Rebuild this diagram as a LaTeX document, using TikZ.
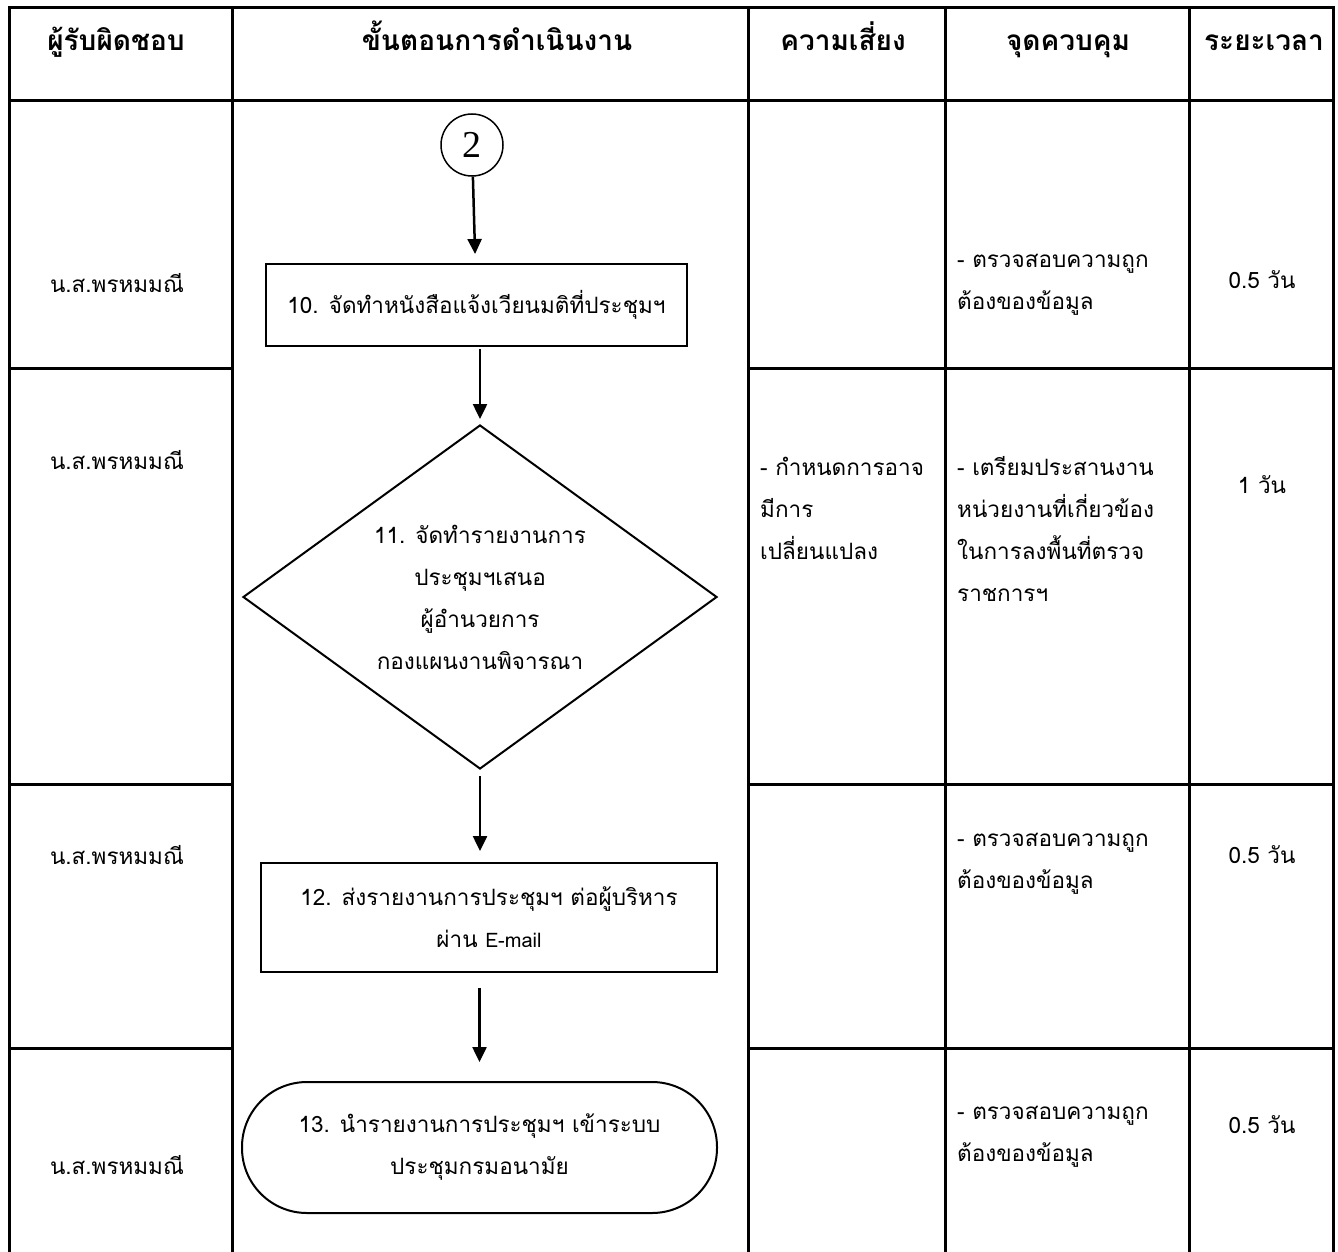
\documentclass[tikz,border=0pt]{standalone}
\usepackage{fontspec}
\setmainfont[Script=Thai]{Loma}
\newfontfamily\numserif{Liberation Serif}
\usetikzlibrary{shapes.geometric,arrows.meta}
\begin{document}
\begin{tikzpicture}[x=1pt,y=-1pt,
  grid/.style={line width=3pt, line cap=rect},
  txt/.style={font=\fontsize{22.5}{42}\selectfont, inner sep=0pt},
  hdr/.style={font=\bfseries\fontsize{28}{32}\selectfont, inner sep=0pt, anchor=base},
  shp/.style={draw, line width=2pt, align=center, inner sep=0pt, font=\fontsize{22.5}{42}\selectfont},
  arr/.style={-{Triangle[length=15pt,width=14pt]}, line width=2.5pt}]
\useasboundingbox (0,0) rectangle (1338,1252);
% table grid
\draw[grid] (9,8) -- (1333,8);
\draw[grid] (9,101) -- (1333,101);
\foreach \xx in {9,232,748,945,1189,1333} \draw[grid] (\xx,8) -- (\xx,1258);
\foreach \yy in {368,784,1048} {
  \draw[grid] (9,\yy) -- (232,\yy);
  \draw[grid] (748,\yy) -- (1333,\yy);
}
% headers
\node[hdr] (h1) at (116,51) {ผู้รับผิดชอบ};
\node[hdr] (h2) at (497,51) {ขั้นตอนการดำเนินงาน};
\node[hdr] (h3) at (843,51) {ความเสี่ยง};
\node[hdr] (h4) at (1068,51) {จุดควบคุม};
\node[hdr] (h5) at (1264,51) {ระยะเวลา};
% responsible
\node[txt] (r1) at (117,283) {น.ส.พรหมมณี};
\node[txt] (r2) at (117,460) {น.ส.พรหมมณี};
\node[txt] (r3) at (117,855) {น.ส.พรหมมณี};
\node[txt] (r4) at (117,1165) {น.ส.พรหมมณี};
% flow
\node[draw, circle, line width=1.5pt, minimum size=62pt, inner sep=0pt,
      font=\numserif\fontsize{38}{38}\selectfont] (c2) at (472,145) {2};
\node[shp, minimum width=421pt, minimum height=82pt] (b10) at (476.5,305)
  {10. จัดทำหนังสือแจ้งเวียนมติที่ประชุมฯ};
\node[shp, diamond, minimum width=474pt, minimum height=344pt, shape aspect=1.38] (d11) at (480,597)
  {11. จัดทำรายงานการ\\ประชุมฯเสนอ\\ผู้อำนวยการ\\กองแผนงานพิจารณา};
\node[shp, minimum width=456pt, minimum height=109pt] (b12) at (489,917.5)
  {12. ส่งรายงานการประชุมฯ ต่อผู้บริหาร\\ผ่าน {\fontsize{20}{24}\selectfont E-mail}};
\node[shp, rounded corners=65pt, minimum width=475pt, minimum height=131pt] (t13) at (479.5,1147.5)
  {13. นำรายงานการประชุมฯ เข้าระบบ\\ประชุมกรมอนามัย};
\draw[arr, shorten >=9pt] (c2) -- (b10);
\draw[arr, shorten <=2pt, shorten >=5pt] (b10.south -| d11.north) -- (d11.north);
\draw[arr, shorten <=6pt, shorten >=11pt] (d11.south) -- (d11.south |- b12.north);
\draw[arr, shorten <=15pt, shorten >=19pt] (t13.north |- b12.south) -- (t13.north);
% risk
\node[txt, anchor=west, align=left] (k2) at (760,508) {- กำหนดการอาจ\\มีการ\\เปลี่ยนแปลง};
% control
\node[txt, anchor=west, align=left] (p1) at (957,285) {- ตรวจสอบความถูก\\ต้องของข้อมูล};
\node[txt, anchor=west, align=left] (p2) at (957,529) {- เตรียมประสานงาน\\หน่วยงานที่เกี่ยวข้อง\\ในการลงพื้นที่ตรวจ\\ราชการฯ};
\node[txt, anchor=west, align=left] (p3) at (957,864) {- ตรวจสอบความถูก\\ต้องของข้อมูล};
\node[txt, anchor=west, align=left] (p4) at (957,1137) {- ตรวจสอบความถูก\\ต้องของข้อมูล};
% time
\node[txt] (s1) at (1262,280) {0.5 วัน};
\node[txt] (s2) at (1262,485) {1 วัน};
\node[txt] (s3) at (1262,855) {0.5 วัน};
\node[txt] (s4) at (1262,1125) {0.5 วัน};
\end{tikzpicture}
\end{document}
